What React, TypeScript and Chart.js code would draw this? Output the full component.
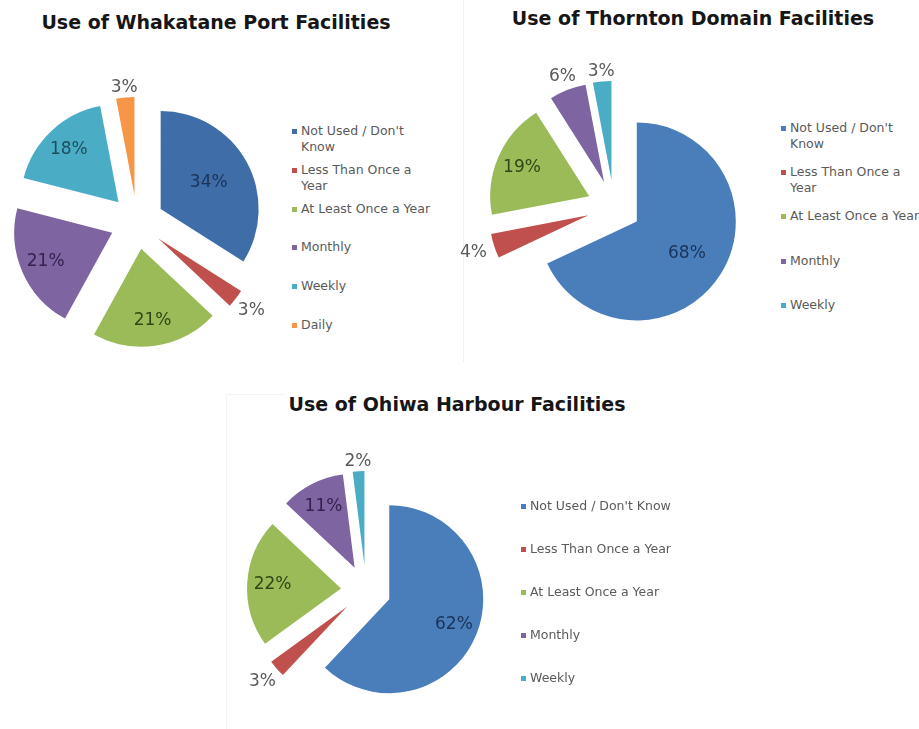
import React, { useEffect, useRef } from "react";
import { Chart, registerables } from "chart.js";

Chart.register(...registerables);

// ---------- data ----------
const whakataneCategories = ["Not Used / Don't Know", "Less Than Once a Year", "At Least Once a Year", "Monthly", "Weekly", "Daily"];
const whakataneValues = [34, 3, 21, 21, 18, 3];

const thorntonCategories = ["Not Used / Don't Know", "Less Than Once a Year", "At Least Once a Year", "Monthly", "Weekly"];
const thorntonValues = [68, 4, 19, 6, 3];

const ohiwaCategories = ["Not Used / Don't Know", "Less Than Once a Year", "At Least Once a Year", "Monthly", "Weekly"];
const ohiwaValues = [62, 3, 22, 11, 2];

const titles = ["Use of Whakatane Port Facilities", "Use of Thornton Domain Facilities", "Use of Ohiwa Harbour Facilities"];

// ---------- styles ----------
const sliceColors = ["#4A7EBB", "#C0504D", "#9BBB59", "#7F64A2", "#4BACC6", "#F79646"];
const sliceColorsFirst = ["#3F6DA8", "#C0504D", "#9BBB59", "#7F64A2", "#4BACC6", "#F79646"];
const insideLabelColors = ["#1B3358", "#5A1E1C", "#2F4715", "#33224F", "#1C4E5C", "#6A3B0E"];
const outsideLabelColor = "#5A5A5A";
const FONT = "'DejaVu Sans', Verdana, sans-serif";

// Explode every slice outwards along its bisector by a fixed distance,
// keeping the radius and angles unchanged (Excel-style exploded pie).
const explodePlugin = {
  id: "explodeSlices",
  afterDatasetsUpdate(chart: any) {
    const opts = chart.options.plugins.pctLabels;
    if (!opts) return;
    const meta = chart.getDatasetMeta(0);
    meta.data.forEach((arc: any) => {
      const mid = (arc.startAngle + arc.endAngle) / 2;
      arc.x = arc.x + Math.cos(mid) * opts.explode;
      arc.y = arc.y + Math.sin(mid) * opts.explode;
    });
  },
};

const pctLabelPlugin = {
  id: "pctLabels",
  afterDatasetsDraw(chart: any) {
    const opts = chart.options.plugins.pctLabels;
    if (!opts) return;
    const meta = chart.getDatasetMeta(0);
    const values: number[] = chart.data.datasets[0].data;
    const total = values.reduce((a: number, b: number) => a + b, 0);
    const ctx = chart.ctx;
    ctx.save();
    ctx.font = `17px ${FONT}`;
    ctx.textAlign = "center";
    ctx.textBaseline = "middle";
    meta.data.forEach((arc: any, i: number) => {
      const p = arc.getProps(["x", "y", "startAngle", "endAngle", "outerRadius"], true);
      const mid = (p.startAngle + p.endAngle) / 2;
      const share = values[i] / total;
      const text = `${values[i]}%`;
      let dist: number;
      let color: string;
      if (share < 0.08) {
        const half = ctx.measureText(text).width / 2;
        dist = p.outerRadius + opts.outsideGap + Math.abs(Math.cos(mid)) * half;
        color = outsideLabelColor;
      } else {
        dist = p.outerRadius * (share > 0.3 ? opts.bigFrac : opts.frac);
        color = insideLabelColors[i];
      }
      const x = p.x + Math.cos(mid) * dist;
      const y = p.y + Math.sin(mid) * dist;
      ctx.fillStyle = color;
      ctx.fillText(text, x, y);
    });
    ctx.restore();
  },
};

type PieProps = {
  categories: string[];
  values: number[];
  colors: string[];
  cx: number;
  cy: number;
  size: number;
  radius: number;
  explode: number;
  bigFrac: number;
  frac: number;
  outsideGap: number;
};

function PieCanvas(props: PieProps) {
  const ref = useRef<HTMLCanvasElement | null>(null);
  useEffect(() => {
    if (!ref.current) return;
    const chart = new Chart(ref.current, {
      type: "pie",
      data: {
        labels: props.categories,
        datasets: [
          {
            data: props.values,
            backgroundColor: props.colors.slice(0, props.values.length),
            borderWidth: 0,
            clip: false,
          } as any,
        ],
      },
      options: {
        animation: false,
        responsive: false,
        maintainAspectRatio: false,
        radius: props.radius,
        layout: { padding: 0 },
        events: [],
        plugins: {
          legend: { display: false },
          tooltip: { enabled: false },
          title: { display: false },
          pctLabels: {
            explode: props.explode,
            bigFrac: props.bigFrac,
            frac: props.frac,
            outsideGap: props.outsideGap,
          },
        } as any,
      } as any,
      plugins: [explodePlugin, pctLabelPlugin],
    });
    return () => chart.destroy();
  }, []);
  return (
    <canvas
      ref={ref}
      width={props.size}
      height={props.size}
      style={{
        position: "absolute",
        left: props.cx - props.size / 2,
        top: props.cy - props.size / 2,
        width: props.size,
        height: props.size,
      }}
    />
  );
}

function Legend({ categories, colors, left, top, step, width }: { categories: string[]; colors: string[]; left: number; top: number; step: number; width: number }) {
  return (
    <>
      {categories.map((c, i) => (
        <div
          key={c}
          style={{
            position: "absolute",
            left,
            top: top + i * step - 8,
            width,
            display: "flex",
            alignItems: "flex-start",
            fontFamily: FONT,
            fontSize: 12.5,
            lineHeight: "16px",
            color: "#5A5A5A",
          }}
        >
          <span style={{ display: "inline-block", width: 5, height: 5, background: colors[i], marginTop: 6, marginRight: 4, flex: "none" }} />
          <span>{c}</span>
        </div>
      ))}
    </>
  );
}

function Title({ text, cx, cy }: { text: string; cx: number; cy: number }) {
  return (
    <div
      style={{
        position: "absolute",
        left: cx - 250,
        top: cy - 12,
        width: 500,
        textAlign: "center",
        fontFamily: FONT,
        fontWeight: "bold",
        fontSize: 19,
        lineHeight: "24px",
        color: "#161616",
        whiteSpace: "nowrap",
      }}
    >
      {text}
    </div>
  );
}

export default function App() {
  return (
    <div style={{ position: "absolute", left: 0, top: 0, width: 919, height: 729, overflow: "hidden", background: "#fff" }}>
      {/* faint frame lines */}
      <div style={{ position: "absolute", left: 463, top: 0, width: 1, height: 362, background: "#f1f1f1" }} />
      <div style={{ position: "absolute", left: 226, top: 394, width: 1, height: 335, background: "#f3f3f3" }} />
      <div style={{ position: "absolute", left: 226, top: 394, width: 60, height: 1, background: "#f3f3f3" }} />

      <Title text={titles[0]} cx={216} cy={22} />
      <Title text={titles[1]} cx={693} cy={18} />
      <Title text={titles[2]} cx={457} cy={404} />

      <PieCanvas categories={whakataneCategories} values={whakataneValues} colors={sliceColorsFirst} cx={137} cy={222} size={310} radius={98} explode={27} bigFrac={0.56} frac={0.74} outsideGap={9} />
      <PieCanvas categories={thorntonCategories} values={thorntonValues} colors={sliceColors} cx={614} cy={207} size={320} radius={99} explode={27} bigFrac={0.6} frac={0.74} outsideGap={9} />
      <PieCanvas categories={ohiwaCategories} values={ohiwaValues} colors={sliceColors} cx={366} cy={590} size={320} radius={94} explode={25} bigFrac={0.74} frac={0.73} outsideGap={9} />

      <Legend categories={whakataneCategories} colors={sliceColorsFirst} left={292} top={131} step={38.8} width={146} />
      <Legend categories={thorntonCategories} colors={sliceColors} left={781} top={128} step={44.2} width={146} />
      <Legend categories={ohiwaCategories} colors={sliceColors} left={521} top={506} step={43} width={230} />
    </div>
  );
}
